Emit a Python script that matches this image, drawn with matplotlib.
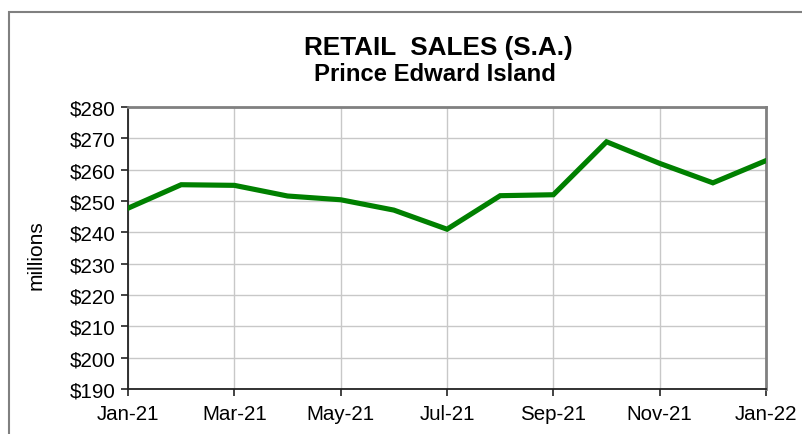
"""Retail sales (seasonally adjusted), Prince Edward Island."""

import matplotlib

matplotlib.use("Agg")
import matplotlib.pyplot as plt
from matplotlib.patches import Rectangle

plt.rcParams["font.family"] = ["Liberation Sans", "DejaVu Sans"]

months = ["Jan-21", "Feb-21", "Mar-21", "Apr-21", "May-21", "Jun-21", "Jul-21",
          "Aug-21", "Sep-21", "Oct-21", "Nov-21", "Dec-21", "Jan-22"]
sales = [247.7, 255.2, 255.0, 251.6, 250.4, 247.1, 241.0,
         251.7, 252.0, 268.9, 262.0, 255.8, 262.9]
y_ticks = list(range(190, 281, 10))

fig = plt.figure(figsize=(8.03, 4.35), dpi=100)
ax = fig.add_axes([0.1594, 0.1034, 0.7946, 0.6483])

x = list(range(len(months)))
ax.plot(x, sales, color="#008000", linewidth=3.7, solid_joinstyle="miter", zorder=3)

ax.set_xlim(0, len(months) - 1)
ax.set_ylim(190, 280)
ax.set_yticks(y_ticks)
ax.set_yticklabels([f"${v}" for v in y_ticks])
ax.set_xticks(x[::2])
ax.set_xticklabels(months[::2])
ax.tick_params(axis="both", labelsize=14.8, direction="out", length=5, width=1.2,
               color="#222222", pad=4)
ax.tick_params(axis="x", pad=6)
ax.grid(True, color="#c8c8c8", linewidth=1.0, zorder=0)

for side in ("left", "bottom"):
    ax.spines[side].set_color("#222222")
    ax.spines[side].set_linewidth(1.3)
for side in ("top", "right"):
    ax.spines[side].set_color("#808080")
    ax.spines[side].set_linewidth(2.0)

fig.text(36 / 803, 1 - 255 / 435, "millions", rotation=90, ha="center", va="center",
         fontsize=15)

fig.text(0.5455, 0.874, "RETAIL  SALES (S.A.)", ha="center", va="baseline",
         fontsize=18.8, fontweight="bold")
fig.text(0.5415, 0.813, "Prince Edward Island", ha="center", va="baseline",
         fontsize=17.2, fontweight="bold")

# outer chart frame, cut off on the right and bottom like the source
fig.patches.append(Rectangle((9 / 803, -0.1), 1.2, (435 - 13) / 435 + 0.1,
                             transform=fig.transFigure, fill=False,
                             edgecolor="#808080", linewidth=1.5))

fig.savefig("out.png", dpi=100)
